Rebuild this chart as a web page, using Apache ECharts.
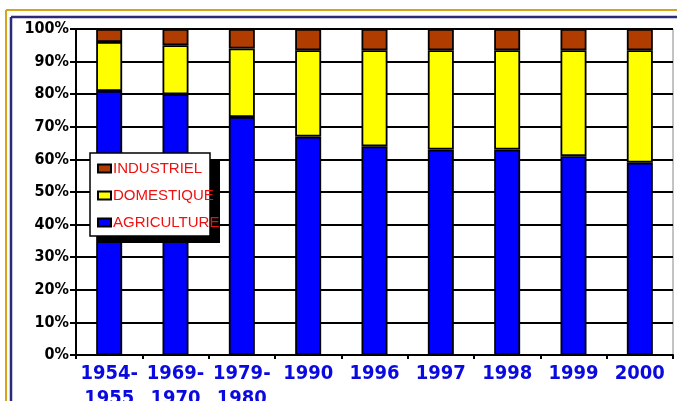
<!DOCTYPE html>
<html>
<head>
<meta charset="utf-8">
<script src="https://cdn.jsdelivr.net/npm/echarts@6/dist/echarts.min.js"></script>
<style>
html,body{margin:0;padding:0;background:#fff;}
#c{width:677px;height:401px;}
</style>
</head>
<body>
<div id="c"></div>
<script>
const categories = ['1954-\n1955','1969-\n1970','1979-\n1980','1990','1996','1997','1998','1999','2000'];
const agriculture = [81, 80, 73, 67, 64, 63, 63, 61, 59];
const domestique = [15, 15, 21, 26.5, 29.5, 30.5, 30.5, 32.5, 34.5];
const industriel = [4, 5, 6, 6.5, 6.5, 6.5, 6.5, 6.5, 6.5];
const yTicks = [0, 10, 20, 30, 40, 50, 60, 70, 80, 90, 100];

const chart = echarts.init(document.getElementById('c'));
const barStyle = (c) => ({ color: c, borderColor: '#000', borderWidth: 1.8 });
chart.setOption({
  animation: false,
  backgroundColor: '#fff',
  grid: { left: 76, right: 4, top: 29, bottom: 46, show: true, borderColor: '#888', borderWidth: 1, outerBoundsMode: 'none', containLabel: false },
  graphic: [
    { type: 'line', shape: { x1: 6, y1: 10, x2: 677, y2: 10 }, style: { stroke: '#d9a21c', lineWidth: 2 }, z: 1 },
    { type: 'line', shape: { x1: 6, y1: 10, x2: 6, y2: 401 }, style: { stroke: '#d9a21c', lineWidth: 2 }, z: 1 },
    { type: 'line', shape: { x1: 11, y1: 17, x2: 677, y2: 17 }, style: { stroke: '#2a2a78', lineWidth: 2.5 }, z: 1 },
    { type: 'line', shape: { x1: 11, y1: 17, x2: 11, y2: 401 }, style: { stroke: '#2a2a78', lineWidth: 2.5 }, z: 1 },
    { type: 'rect', shape: { x: 98, y: 161, width: 122, height: 82 }, style: { fill: '#000' }, z: 3 },
    { type: 'rect', shape: { x: 90, y: 153, width: 120, height: 83 }, style: { fill: '#fff', stroke: '#000', lineWidth: 1.5 }, z: 3 }
  ],
  legend: {
    orient: 'vertical',
    left: 90, top: 153,
    padding: [8, 6, 8, 7],
    itemWidth: 13, itemHeight: 8,
    itemGap: 12,
    z: 5,
    data: [
      { name: 'INDUSTRIEL', icon: 'rect' },
      { name: 'DOMESTIQUE', icon: 'rect' },
      { name: 'AGRICULTURE', icon: 'rect' }
    ],
    textStyle: { color: '#ee1111', fontSize: 15, fontFamily: 'Liberation Sans, Arial, sans-serif', padding: [0,0,0,-3] }
  },
  xAxis: {
    type: 'category',
    data: categories,
    axisLine: { lineStyle: { color: '#000', width: 2 } },
    axisTick: { show: true, length: 4, lineStyle: { color: '#000', width: 2 } },
    axisLabel: {
      interval: 0, margin: 6,
      color: '#0a0ae0', fontWeight: 'bold', fontSize: 20, lineHeight: 25,
      fontFamily: 'DejaVu Sans Condensed, DejaVu Sans, sans-serif'
    },
    splitLine: { show: false }
  },
  yAxis: {
    type: 'value',
    min: yTicks[0], max: yTicks[yTicks.length - 1], interval: 10,
    axisLine: { show: true, lineStyle: { color: '#000', width: 2 } },
    axisTick: { show: true, length: 6, lineStyle: { color: '#000', width: 2 } },
    axisLabel: {
      margin: 7, formatter: '{value}%',
      color: '#000', fontWeight: 'bold', fontSize: 16,
      fontFamily: 'DejaVu Sans Condensed, DejaVu Sans, sans-serif'
    },
    splitLine: { show: true, lineStyle: { color: '#000', width: 2 } }
  },
  series: [
    { name: 'AGRICULTURE', type: 'bar', stack: 's', barWidth: 26, data: agriculture, itemStyle: barStyle('#0000ff') },
    { name: 'DOMESTIQUE', type: 'bar', stack: 's', barWidth: 26, data: domestique, itemStyle: barStyle('#ffff00') },
    { name: 'INDUSTRIEL', type: 'bar', stack: 's', barWidth: 26, data: industriel, itemStyle: barStyle('#b03c00') }
  ]
});
</script>
</body>
</html>
